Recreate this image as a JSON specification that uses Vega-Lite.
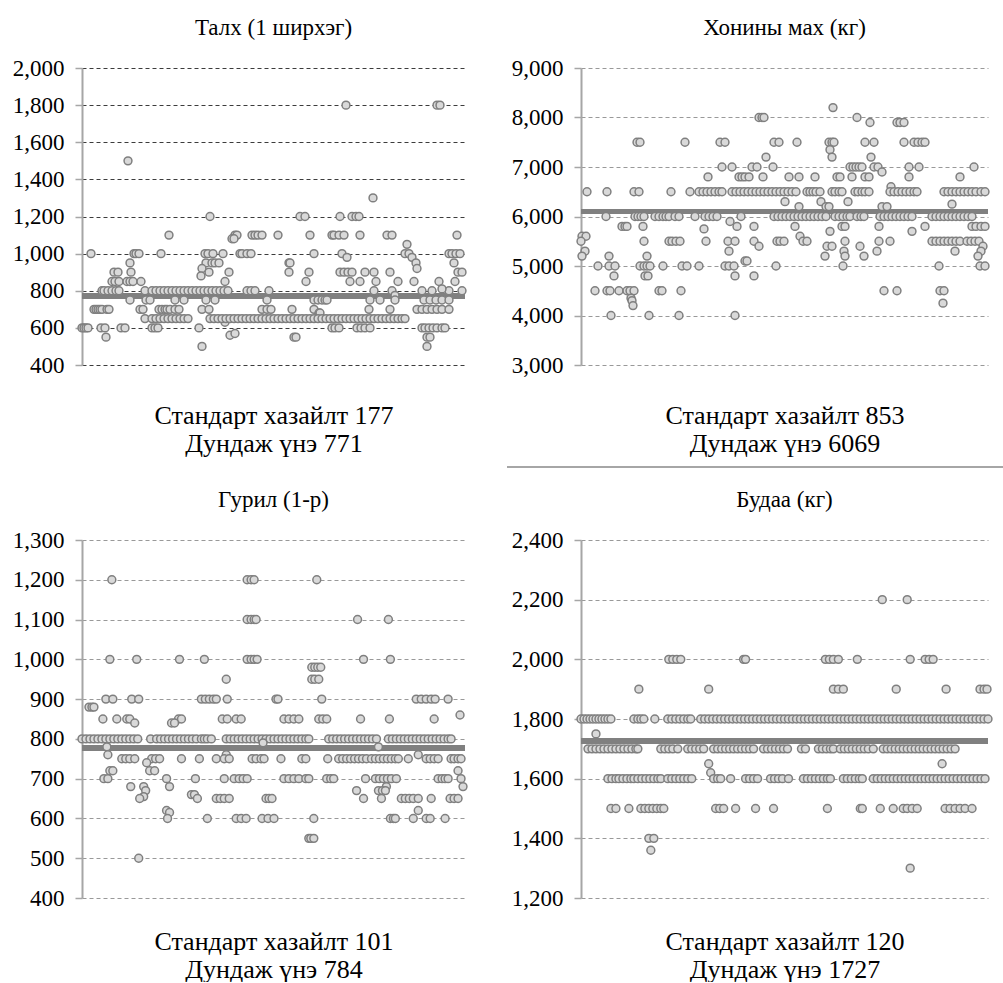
{
  "$schema": "https://vega.github.io/schema/vega-lite/v6.json",
  "background": "white",
  "padding": {"left": 12, "top": 17, "right": 0, "bottom": 0},
  "config": {
    "font": "Liberation Serif, Times New Roman, DejaVu Serif, serif",
    "view": {"stroke": null},
    "title": {"font": "Liberation Serif, Times New Roman, DejaVu Serif, serif", "fontSize": 23, "fontWeight": "normal", "color": "#000", "offset": 17},
    "axisY": {"domainColor": "#a6a6a6", "domainWidth": 2, "tickColor": "#a6a6a6", "tickSize": 7, "tickWidth": 1.5, "labelFont": "Liberation Serif, Times New Roman, DejaVu Serif, serif", "labelFontSize": 23, "labelColor": "#000", "labelPadding": 11, "labelFlush": false, "labelOverlap": false, "grid": true, "gridColor": "#999", "gridDash": [4, 3], "gridWidth": 1, "format": ",d"},
    "axisX": {"labels": false, "ticks": false, "domain": false, "grid": false, "titleFont": "Liberation Serif, Times New Roman, DejaVu Serif, serif", "titleFontSize": 26, "titleFontWeight": "normal", "titleColor": "#000", "titleLineHeight": 28, "titlePadding": 37}
  },
  "datasets": {
    "talkh": [
      {"x":0,"y":600},{"x":2,"y":600},{"x":4,"y":600},{"x":6,"y":600},{"x":19,"y":600},{"x":23,"y":600},{"x":39,"y":600},{"x":43,"y":600},{"x":70,"y":600},{"x":73,"y":600},{"x":76,"y":600},{"x":117,"y":600},{"x":250,"y":600},{"x":253,"y":600},{"x":257,"y":600},{"x":275,"y":600},{"x":279,"y":600},{"x":283,"y":600},{"x":288,"y":600},{"x":340,"y":600},{"x":343,"y":600},{"x":347,"y":600},{"x":351,"y":600},{"x":355,"y":600},{"x":360,"y":600},{"x":363,"y":600},
      {"x":148,"y":560},{"x":153,"y":570},{"x":24,"y":550},{"x":212,"y":550},{"x":214,"y":550},{"x":345,"y":550},{"x":348,"y":550},{"x":120,"y":500},{"x":345,"y":500},
      {"x":46,"y":1500},{"x":264,"y":1800},{"x":355,"y":1800},{"x":358,"y":1800},{"x":291,"y":1300},
      {"x":128,"y":1200},{"x":218,"y":1200},{"x":223,"y":1200},{"x":258,"y":1200},{"x":270,"y":1200},{"x":274,"y":1200},{"x":277,"y":1200},
      {"x":87,"y":1100},{"x":153,"y":1100},{"x":155,"y":1100},{"x":170,"y":1100},{"x":173,"y":1100},{"x":176,"y":1100},{"x":180,"y":1100},{"x":196,"y":1100},{"x":228,"y":1100},{"x":250,"y":1100},{"x":252,"y":1100},{"x":257,"y":1100},{"x":262,"y":1100},{"x":278,"y":1100},{"x":305,"y":1100},{"x":310,"y":1100},{"x":375,"y":1100},
      {"x":150,"y":1080},{"x":152,"y":1080},{"x":325,"y":1050},
      {"x":9,"y":1000},{"x":52,"y":1000},{"x":54,"y":1000},{"x":57,"y":1000},{"x":79,"y":1000},{"x":123,"y":1000},{"x":126,"y":1000},{"x":131,"y":1000},{"x":141,"y":1000},{"x":158,"y":1000},{"x":160,"y":1000},{"x":165,"y":1000},{"x":169,"y":1000},{"x":232,"y":1000},{"x":260,"y":1000},{"x":323,"y":1000},{"x":327,"y":1000},{"x":367,"y":1000},{"x":370,"y":1000},{"x":374,"y":1000},{"x":378,"y":1000},
      {"x":265,"y":980},{"x":330,"y":980},
      {"x":48,"y":950},{"x":124,"y":950},{"x":130,"y":950},{"x":133,"y":950},{"x":137,"y":950},{"x":207,"y":950},{"x":208,"y":950},{"x":334,"y":950},{"x":372,"y":950},
      {"x":120,"y":920},{"x":335,"y":920},
      {"x":32,"y":900},{"x":36,"y":900},{"x":49,"y":900},{"x":127,"y":900},{"x":147,"y":900},{"x":207,"y":900},{"x":227,"y":900},{"x":258,"y":900},{"x":262,"y":900},{"x":266,"y":900},{"x":270,"y":900},{"x":283,"y":900},{"x":292,"y":900},{"x":308,"y":900},{"x":376,"y":900},{"x":380,"y":900},
      {"x":119,"y":880},
      {"x":30,"y":850},{"x":33,"y":850},{"x":37,"y":850},{"x":45,"y":850},{"x":48,"y":850},{"x":51,"y":850},{"x":59,"y":850},{"x":143,"y":850},{"x":224,"y":850},{"x":268,"y":850},{"x":278,"y":850},{"x":294,"y":850},{"x":316,"y":850},{"x":332,"y":850},{"x":357,"y":850},{"x":373,"y":850},
      {"x":20,"y":800},{"x":22,"y":800},{"x":26,"y":800},{"x":30,"y":800},{"x":34,"y":800},{"x":37,"y":800},{"x":63,"y":800},{"x":70,"y":800},{"x":74,"y":800},{"x":78,"y":800},{"x":82,"y":800},{"x":86,"y":800},{"x":90,"y":800},{"x":94,"y":800},{"x":98,"y":800},{"x":102,"y":800},{"x":106,"y":800},{"x":110,"y":800},{"x":114,"y":800},{"x":118,"y":800},{"x":122,"y":800},{"x":126,"y":800},{"x":130,"y":800},{"x":134,"y":800},{"x":138,"y":800},{"x":142,"y":800},{"x":146,"y":800},{"x":165,"y":800},{"x":169,"y":800},{"x":173,"y":800},{"x":187,"y":800},{"x":292,"y":800},{"x":310,"y":800},{"x":340,"y":800},{"x":350,"y":800},{"x":367,"y":800},{"x":380,"y":800},
      {"x":360,"y":810},{"x":313,"y":775},
      {"x":48,"y":750},{"x":64,"y":750},{"x":68,"y":750},{"x":93,"y":750},{"x":102,"y":750},{"x":124,"y":750},{"x":133,"y":750},{"x":185,"y":750},{"x":232,"y":750},{"x":236,"y":750},{"x":240,"y":750},{"x":243,"y":750},{"x":245,"y":750},{"x":288,"y":750},{"x":298,"y":750},{"x":313,"y":750},{"x":342,"y":750},{"x":348,"y":750},{"x":354,"y":750},{"x":360,"y":750},{"x":367,"y":750},
      {"x":12,"y":700},{"x":14,"y":700},{"x":16,"y":700},{"x":18,"y":700},{"x":20,"y":700},{"x":25,"y":700},{"x":27,"y":700},{"x":58,"y":700},{"x":61,"y":700},{"x":77,"y":700},{"x":80,"y":700},{"x":83,"y":700},{"x":85,"y":700},{"x":88,"y":700},{"x":93,"y":700},{"x":97,"y":700},{"x":120,"y":700},{"x":127,"y":700},{"x":180,"y":700},{"x":185,"y":700},{"x":189,"y":700},{"x":210,"y":700},{"x":232,"y":700},{"x":287,"y":700},{"x":308,"y":700},{"x":335,"y":700},{"x":340,"y":700},{"x":345,"y":700},{"x":350,"y":700},{"x":355,"y":700},{"x":360,"y":700},{"x":367,"y":700},
      {"x":237,"y":680},{"x":238,"y":680},{"x":143,"y":630},
      {"x":63,"y":650},{"x":70,"y":650},{"x":74,"y":650},{"x":78,"y":650},{"x":82,"y":650},{"x":86,"y":650},{"x":90,"y":650},{"x":94,"y":650},{"x":98,"y":650},{"x":102,"y":650},{"x":106,"y":650},{"x":128,"y":650},{"x":132,"y":650},{"x":136,"y":650},{"x":140,"y":650},{"x":144,"y":650},{"x":148,"y":650},{"x":152,"y":650},{"x":156,"y":650},{"x":160,"y":650},{"x":164,"y":650},{"x":168,"y":650},{"x":172,"y":650},{"x":176,"y":650},{"x":180,"y":650},{"x":184,"y":650},{"x":188,"y":650},{"x":192,"y":650},{"x":196,"y":650},{"x":200,"y":650},{"x":204,"y":650},{"x":208,"y":650},{"x":212,"y":650},{"x":216,"y":650},{"x":220,"y":650},{"x":224,"y":650},{"x":228,"y":650},{"x":232,"y":650},{"x":236,"y":650},{"x":240,"y":650},{"x":244,"y":650},{"x":248,"y":650},{"x":252,"y":650},{"x":256,"y":650},{"x":260,"y":650},{"x":264,"y":650},{"x":268,"y":650},{"x":272,"y":650},{"x":276,"y":650},{"x":280,"y":650},{"x":284,"y":650},{"x":288,"y":650},{"x":292,"y":650},{"x":296,"y":650},{"x":300,"y":650},{"x":304,"y":650},{"x":308,"y":650},{"x":312,"y":650},{"x":316,"y":650},{"x":320,"y":650},{"x":323,"y":650}
    ],
    "mah": [
      {"x":252,"y":8200},{"x":178,"y":8000},{"x":181,"y":8000},{"x":183,"y":8000},{"x":276,"y":8000},{"x":289,"y":7900},{"x":316,"y":7900},{"x":319,"y":7900},{"x":323,"y":7900},
      {"x":56,"y":7500},{"x":59,"y":7500},{"x":104,"y":7500},{"x":139,"y":7500},{"x":144,"y":7500},{"x":193,"y":7500},{"x":198,"y":7500},{"x":216,"y":7500},{"x":248,"y":7500},{"x":251,"y":7500},{"x":253,"y":7500},{"x":284,"y":7500},{"x":293,"y":7500},{"x":323,"y":7500},{"x":333,"y":7500},{"x":337,"y":7500},{"x":341,"y":7500},{"x":344,"y":7500},
      {"x":249,"y":7350},{"x":185,"y":7200},{"x":251,"y":7200},{"x":290,"y":7200},
      {"x":141,"y":7000},{"x":151,"y":7000},{"x":171,"y":7000},{"x":176,"y":7000},{"x":192,"y":7000},{"x":269,"y":7000},{"x":272,"y":7000},{"x":275,"y":7000},{"x":278,"y":7000},{"x":281,"y":7000},{"x":293,"y":7000},{"x":297,"y":7000},{"x":328,"y":7000},{"x":338,"y":7000},{"x":393,"y":7000},{"x":301,"y":6900},
      {"x":127,"y":6800},{"x":158,"y":6800},{"x":161,"y":6800},{"x":164,"y":6800},{"x":168,"y":6800},{"x":182,"y":6800},{"x":208,"y":6800},{"x":218,"y":6800},{"x":234,"y":6800},{"x":256,"y":6800},{"x":259,"y":6800},{"x":271,"y":6800},{"x":284,"y":6800},{"x":288,"y":6800},{"x":328,"y":6800},{"x":379,"y":6800},{"x":310,"y":6600},
      {"x":6,"y":6500},{"x":26,"y":6500},{"x":53,"y":6500},{"x":58,"y":6500},{"x":90,"y":6500},{"x":109,"y":6500},{"x":118,"y":6500},{"x":122,"y":6500},{"x":126,"y":6500},{"x":130,"y":6500},{"x":134,"y":6500},{"x":138,"y":6500},{"x":141,"y":6500},{"x":151,"y":6500},{"x":155,"y":6500},{"x":159,"y":6500},{"x":163,"y":6500},{"x":167,"y":6500},{"x":171,"y":6500},{"x":175,"y":6500},{"x":179,"y":6500},{"x":183,"y":6500},{"x":187,"y":6500},{"x":191,"y":6500},{"x":195,"y":6500},{"x":199,"y":6500},{"x":203,"y":6500},{"x":207,"y":6500},{"x":211,"y":6500},{"x":215,"y":6500},{"x":226,"y":6500},{"x":229,"y":6500},{"x":232,"y":6500},{"x":235,"y":6500},{"x":239,"y":6500},{"x":251,"y":6500},{"x":254,"y":6500},{"x":258,"y":6500},{"x":261,"y":6500},{"x":274,"y":6500},{"x":277,"y":6500},{"x":281,"y":6500},{"x":284,"y":6500},{"x":288,"y":6500},{"x":309,"y":6500},{"x":313,"y":6500},{"x":317,"y":6500},{"x":321,"y":6500},{"x":325,"y":6500},{"x":329,"y":6500},{"x":333,"y":6500},{"x":336,"y":6500},{"x":363,"y":6500},{"x":367,"y":6500},{"x":371,"y":6500},{"x":375,"y":6500},{"x":379,"y":6500},{"x":383,"y":6500},{"x":387,"y":6500},{"x":391,"y":6500},{"x":395,"y":6500},{"x":400,"y":6500},{"x":404,"y":6500},
      {"x":204,"y":6300},{"x":240,"y":6300},{"x":267,"y":6300},{"x":371,"y":6250},{"x":218,"y":6200},{"x":245,"y":6200},{"x":248,"y":6200},{"x":301,"y":6200},{"x":306,"y":6200},
      {"x":25,"y":6000},{"x":54,"y":6000},{"x":57,"y":6000},{"x":60,"y":6000},{"x":63,"y":6000},{"x":74,"y":6000},{"x":78,"y":6000},{"x":82,"y":6000},{"x":85,"y":6000},{"x":88,"y":6000},{"x":94,"y":6000},{"x":98,"y":6000},{"x":114,"y":6000},{"x":124,"y":6000},{"x":128,"y":6000},{"x":132,"y":6000},{"x":136,"y":6000},{"x":160,"y":6000},{"x":193,"y":6000},{"x":197,"y":6000},{"x":201,"y":6000},{"x":205,"y":6000},{"x":209,"y":6000},{"x":213,"y":6000},{"x":217,"y":6000},{"x":221,"y":6000},{"x":225,"y":6000},{"x":229,"y":6000},{"x":233,"y":6000},{"x":237,"y":6000},{"x":241,"y":6000},{"x":245,"y":6000},{"x":254,"y":6000},{"x":258,"y":6000},{"x":262,"y":6000},{"x":266,"y":6000},{"x":269,"y":6000},{"x":276,"y":6000},{"x":280,"y":6000},{"x":283,"y":6000},{"x":299,"y":6000},{"x":303,"y":6000},{"x":307,"y":6000},{"x":311,"y":6000},{"x":315,"y":6000},{"x":319,"y":6000},{"x":323,"y":6000},{"x":327,"y":6000},{"x":331,"y":6000},{"x":351,"y":6000},{"x":355,"y":6000},{"x":359,"y":6000},{"x":363,"y":6000},{"x":367,"y":6000},{"x":371,"y":6000},{"x":375,"y":6000},{"x":379,"y":6000},{"x":383,"y":6000},{"x":387,"y":6000},{"x":391,"y":6000},
      {"x":149,"y":5900},{"x":41,"y":5800},{"x":44,"y":5800},{"x":46,"y":5800},{"x":62,"y":5800},{"x":156,"y":5800},{"x":173,"y":5800},{"x":214,"y":5800},{"x":261,"y":5800},{"x":264,"y":5800},{"x":298,"y":5800},{"x":344,"y":5800},{"x":391,"y":5800},{"x":395,"y":5800},{"x":400,"y":5800},{"x":404,"y":5800},
      {"x":123,"y":5750},{"x":249,"y":5700},{"x":331,"y":5700},{"x":1,"y":5600},{"x":5,"y":5600},{"x":219,"y":5600},
      {"x":0,"y":5500},{"x":63,"y":5500},{"x":88,"y":5500},{"x":91,"y":5500},{"x":95,"y":5500},{"x":99,"y":5500},{"x":125,"y":5500},{"x":147,"y":5500},{"x":154,"y":5500},{"x":173,"y":5500},{"x":196,"y":5500},{"x":199,"y":5500},{"x":203,"y":5500},{"x":222,"y":5500},{"x":226,"y":5500},{"x":264,"y":5500},{"x":298,"y":5500},{"x":309,"y":5500},{"x":351,"y":5500},{"x":355,"y":5500},{"x":359,"y":5500},{"x":363,"y":5500},{"x":367,"y":5500},{"x":371,"y":5500},{"x":375,"y":5500},{"x":379,"y":5500},{"x":386,"y":5500},{"x":390,"y":5500},{"x":394,"y":5500},{"x":398,"y":5500},
      {"x":178,"y":5400},{"x":246,"y":5400},{"x":251,"y":5400},{"x":279,"y":5400},{"x":402,"y":5400},{"x":4,"y":5300},{"x":148,"y":5300},{"x":263,"y":5300},{"x":296,"y":5300},{"x":374,"y":5300},{"x":400,"y":5300},
      {"x":1,"y":5200},{"x":28,"y":5200},{"x":66,"y":5200},{"x":244,"y":5200},{"x":264,"y":5200},{"x":283,"y":5200},{"x":397,"y":5200},{"x":164,"y":5100},{"x":166,"y":5100},
      {"x":17,"y":5000},{"x":28,"y":5000},{"x":34,"y":5000},{"x":59,"y":5000},{"x":63,"y":5000},{"x":66,"y":5000},{"x":69,"y":5000},{"x":82,"y":5000},{"x":101,"y":5000},{"x":106,"y":5000},{"x":118,"y":5000},{"x":144,"y":5000},{"x":148,"y":5000},{"x":153,"y":5000},{"x":195,"y":5000},{"x":262,"y":5000},{"x":358,"y":5000},{"x":399,"y":5000},{"x":404,"y":5000},
      {"x":33,"y":4800},{"x":64,"y":4800},{"x":67,"y":4800},{"x":154,"y":4800},{"x":173,"y":4800},
      {"x":14,"y":4500},{"x":26,"y":4500},{"x":29,"y":4500},{"x":38,"y":4500},{"x":46,"y":4500},{"x":49,"y":4500},{"x":53,"y":4500},{"x":78,"y":4500},{"x":81,"y":4500},{"x":100,"y":4500},{"x":303,"y":4500},{"x":316,"y":4500},{"x":359,"y":4500},{"x":363,"y":4500},
      {"x":50,"y":4350},{"x":51,"y":4300},{"x":52,"y":4200},{"x":362,"y":4250},
      {"x":30,"y":4000},{"x":68,"y":4000},{"x":98,"y":4000},{"x":154,"y":4000}
    ],
    "guril": [
      {"x":30,"y":1200},{"x":166,"y":1200},{"x":170,"y":1200},{"x":173,"y":1200},{"x":236,"y":1200},
      {"x":166,"y":1100},{"x":170,"y":1100},{"x":173,"y":1100},{"x":175,"y":1100},{"x":277,"y":1100},{"x":308,"y":1100},
      {"x":28,"y":1000},{"x":55,"y":1000},{"x":98,"y":1000},{"x":123,"y":1000},{"x":166,"y":1000},{"x":170,"y":1000},{"x":173,"y":1000},{"x":176,"y":1000},{"x":283,"y":1000},{"x":310,"y":1000},
      {"x":231,"y":980},{"x":234,"y":980},{"x":237,"y":980},{"x":240,"y":980},{"x":145,"y":950},{"x":231,"y":950},{"x":234,"y":950},{"x":238,"y":950},
      {"x":24,"y":900},{"x":31,"y":900},{"x":50,"y":900},{"x":57,"y":900},{"x":120,"y":900},{"x":124,"y":900},{"x":128,"y":900},{"x":132,"y":900},{"x":135,"y":900},{"x":146,"y":900},{"x":195,"y":900},{"x":197,"y":900},{"x":241,"y":900},{"x":336,"y":900},{"x":341,"y":900},{"x":346,"y":900},{"x":351,"y":900},{"x":355,"y":900},{"x":368,"y":900},
      {"x":7,"y":880},{"x":10,"y":880},{"x":12,"y":880},{"x":380,"y":860},
      {"x":21,"y":850},{"x":35,"y":850},{"x":45,"y":850},{"x":48,"y":850},{"x":97,"y":850},{"x":100,"y":850},{"x":141,"y":850},{"x":146,"y":850},{"x":155,"y":850},{"x":160,"y":850},{"x":203,"y":850},{"x":208,"y":850},{"x":213,"y":850},{"x":218,"y":850},{"x":238,"y":850},{"x":242,"y":850},{"x":246,"y":850},{"x":280,"y":850},{"x":309,"y":850},{"x":354,"y":850},
      {"x":53,"y":840},{"x":90,"y":840},{"x":93,"y":840},
      {"x":0,"y":800},{"x":4,"y":800},{"x":8,"y":800},{"x":12,"y":800},{"x":16,"y":800},{"x":20,"y":800},{"x":24,"y":800},{"x":28,"y":800},{"x":32,"y":800},{"x":36,"y":800},{"x":40,"y":800},{"x":44,"y":800},{"x":48,"y":800},{"x":52,"y":800},{"x":56,"y":800},{"x":69,"y":800},{"x":75,"y":800},{"x":79,"y":800},{"x":83,"y":800},{"x":87,"y":800},{"x":91,"y":800},{"x":95,"y":800},{"x":99,"y":800},{"x":103,"y":800},{"x":107,"y":800},{"x":111,"y":800},{"x":115,"y":800},{"x":120,"y":800},{"x":123,"y":800},{"x":126,"y":800},{"x":130,"y":800},{"x":145,"y":800},{"x":149,"y":800},{"x":153,"y":800},{"x":157,"y":800},{"x":161,"y":800},{"x":165,"y":800},{"x":169,"y":800},{"x":173,"y":800},{"x":177,"y":800},{"x":181,"y":800},{"x":185,"y":800},{"x":189,"y":800},{"x":193,"y":800},{"x":197,"y":800},{"x":201,"y":800},{"x":205,"y":800},{"x":209,"y":800},{"x":213,"y":800},{"x":217,"y":800},{"x":221,"y":800},{"x":225,"y":800},{"x":228,"y":800},{"x":248,"y":800},{"x":252,"y":800},{"x":256,"y":800},{"x":260,"y":800},{"x":264,"y":800},{"x":268,"y":800},{"x":272,"y":800},{"x":276,"y":800},{"x":280,"y":800},{"x":284,"y":800},{"x":288,"y":800},{"x":292,"y":800},{"x":296,"y":800},{"x":308,"y":800},{"x":312,"y":800},{"x":316,"y":800},{"x":320,"y":800},{"x":324,"y":800},{"x":328,"y":800},{"x":332,"y":800},{"x":336,"y":800},{"x":340,"y":800},{"x":344,"y":800},{"x":348,"y":800},{"x":352,"y":800},{"x":356,"y":800},{"x":360,"y":800},{"x":364,"y":800},{"x":368,"y":800},{"x":371,"y":800},
      {"x":182,"y":790},{"x":25,"y":780},{"x":298,"y":780},{"x":26,"y":760},{"x":145,"y":760},{"x":338,"y":760},
      {"x":40,"y":750},{"x":44,"y":750},{"x":48,"y":750},{"x":53,"y":750},{"x":70,"y":750},{"x":74,"y":750},{"x":78,"y":750},{"x":100,"y":750},{"x":118,"y":750},{"x":135,"y":750},{"x":143,"y":750},{"x":148,"y":750},{"x":171,"y":750},{"x":175,"y":750},{"x":180,"y":750},{"x":183,"y":750},{"x":200,"y":750},{"x":221,"y":750},{"x":225,"y":750},{"x":247,"y":750},{"x":258,"y":750},{"x":262,"y":750},{"x":266,"y":750},{"x":270,"y":750},{"x":274,"y":750},{"x":278,"y":750},{"x":282,"y":750},{"x":286,"y":750},{"x":291,"y":750},{"x":295,"y":750},{"x":299,"y":750},{"x":303,"y":750},{"x":307,"y":750},{"x":311,"y":750},{"x":315,"y":750},{"x":318,"y":750},{"x":328,"y":750},{"x":346,"y":750},{"x":350,"y":750},{"x":354,"y":750},{"x":358,"y":750},{"x":371,"y":750},{"x":374,"y":750},{"x":378,"y":750},{"x":381,"y":750},
      {"x":65,"y":740},{"x":28,"y":720},{"x":31,"y":720},{"x":68,"y":720},{"x":73,"y":720},{"x":378,"y":720},
      {"x":22,"y":700},{"x":26,"y":700},{"x":85,"y":700},{"x":114,"y":700},{"x":143,"y":700},{"x":153,"y":700},{"x":158,"y":700},{"x":162,"y":700},{"x":166,"y":700},{"x":203,"y":700},{"x":208,"y":700},{"x":213,"y":700},{"x":218,"y":700},{"x":225,"y":700},{"x":228,"y":700},{"x":246,"y":700},{"x":250,"y":700},{"x":253,"y":700},{"x":285,"y":700},{"x":295,"y":700},{"x":299,"y":700},{"x":303,"y":700},{"x":307,"y":700},{"x":311,"y":700},{"x":316,"y":700},{"x":358,"y":700},{"x":362,"y":700},{"x":365,"y":700},{"x":368,"y":700},{"x":381,"y":700},
      {"x":49,"y":680},{"x":62,"y":680},{"x":88,"y":680},{"x":306,"y":680},{"x":383,"y":680},{"x":64,"y":670},{"x":276,"y":670},{"x":298,"y":670},{"x":302,"y":670},{"x":305,"y":670},{"x":110,"y":660},{"x":113,"y":660},{"x":62,"y":655},
      {"x":58,"y":650},{"x":116,"y":650},{"x":135,"y":650},{"x":139,"y":650},{"x":143,"y":650},{"x":148,"y":650},{"x":185,"y":650},{"x":188,"y":650},{"x":191,"y":650},{"x":283,"y":650},{"x":301,"y":650},{"x":321,"y":650},{"x":325,"y":650},{"x":329,"y":650},{"x":333,"y":650},{"x":338,"y":650},{"x":351,"y":650},{"x":370,"y":650},{"x":374,"y":650},{"x":378,"y":650},
      {"x":85,"y":620},{"x":338,"y":620},{"x":88,"y":615},
      {"x":86,"y":600},{"x":126,"y":600},{"x":155,"y":600},{"x":160,"y":600},{"x":165,"y":600},{"x":181,"y":600},{"x":187,"y":600},{"x":193,"y":600},{"x":233,"y":600},{"x":310,"y":600},{"x":313,"y":600},{"x":315,"y":600},{"x":333,"y":600},{"x":346,"y":600},{"x":350,"y":600},{"x":365,"y":600},
      {"x":228,"y":550},{"x":230,"y":550},{"x":233,"y":550},{"x":57,"y":500}
    ],
    "budaa": [
      {"x":302,"y":2200},{"x":327,"y":2200},
      {"x":88,"y":2000},{"x":92,"y":2000},{"x":96,"y":2000},{"x":100,"y":2000},{"x":163,"y":2000},{"x":165,"y":2000},{"x":245,"y":2000},{"x":249,"y":2000},{"x":253,"y":2000},{"x":258,"y":2000},{"x":277,"y":2000},{"x":330,"y":2000},{"x":345,"y":2000},{"x":349,"y":2000},{"x":353,"y":2000},
      {"x":58,"y":1900},{"x":128,"y":1900},{"x":253,"y":1900},{"x":258,"y":1900},{"x":263,"y":1900},{"x":316,"y":1900},{"x":366,"y":1900},{"x":400,"y":1900},{"x":404,"y":1900},{"x":407,"y":1900},
      {"x":0,"y":1800},{"x":3,"y":1800},{"x":6,"y":1800},{"x":9,"y":1800},{"x":12,"y":1800},{"x":15,"y":1800},{"x":18,"y":1800},{"x":21,"y":1800},{"x":24,"y":1800},{"x":27,"y":1800},{"x":30,"y":1800},{"x":53,"y":1800},{"x":57,"y":1800},{"x":60,"y":1800},{"x":63,"y":1800},{"x":74,"y":1800},{"x":87,"y":1800},{"x":91,"y":1800},{"x":95,"y":1800},{"x":99,"y":1800},{"x":103,"y":1800},{"x":107,"y":1800},{"x":110,"y":1800},
      {"x":120,"y":1800},{"x":124,"y":1800},{"x":128,"y":1800},{"x":132,"y":1800},{"x":136,"y":1800},{"x":140,"y":1800},{"x":144,"y":1800},{"x":148,"y":1800},{"x":152,"y":1800},{"x":156,"y":1800},{"x":160,"y":1800},{"x":164,"y":1800},{"x":168,"y":1800},{"x":172,"y":1800},{"x":176,"y":1800},{"x":180,"y":1800},{"x":184,"y":1800},{"x":188,"y":1800},{"x":192,"y":1800},{"x":196,"y":1800},{"x":200,"y":1800},{"x":204,"y":1800},{"x":208,"y":1800},{"x":212,"y":1800},{"x":216,"y":1800},{"x":220,"y":1800},{"x":224,"y":1800},{"x":228,"y":1800},{"x":232,"y":1800},{"x":236,"y":1800},{"x":240,"y":1800},{"x":244,"y":1800},{"x":248,"y":1800},{"x":252,"y":1800},{"x":256,"y":1800},{"x":260,"y":1800},{"x":264,"y":1800},{"x":268,"y":1800},{"x":272,"y":1800},{"x":276,"y":1800},{"x":280,"y":1800},{"x":284,"y":1800},{"x":288,"y":1800},{"x":292,"y":1800},{"x":296,"y":1800},{"x":300,"y":1800},{"x":304,"y":1800},{"x":308,"y":1800},{"x":312,"y":1800},{"x":316,"y":1800},{"x":320,"y":1800},{"x":324,"y":1800},{"x":328,"y":1800},{"x":332,"y":1800},{"x":336,"y":1800},{"x":340,"y":1800},{"x":344,"y":1800},{"x":348,"y":1800},{"x":352,"y":1800},{"x":356,"y":1800},{"x":360,"y":1800},{"x":364,"y":1800},{"x":368,"y":1800},{"x":372,"y":1800},{"x":376,"y":1800},{"x":380,"y":1800},{"x":384,"y":1800},{"x":388,"y":1800},{"x":392,"y":1800},{"x":396,"y":1800},{"x":400,"y":1800},{"x":404,"y":1800},{"x":408,"y":1800},
      {"x":15,"y":1750},
      {"x":7,"y":1700},{"x":11,"y":1700},{"x":15,"y":1700},{"x":19,"y":1700},{"x":23,"y":1700},{"x":27,"y":1700},{"x":31,"y":1700},{"x":35,"y":1700},{"x":39,"y":1700},{"x":43,"y":1700},{"x":47,"y":1700},{"x":51,"y":1700},{"x":55,"y":1700},{"x":57,"y":1700},{"x":80,"y":1700},{"x":84,"y":1700},{"x":88,"y":1700},{"x":92,"y":1700},{"x":97,"y":1700},{"x":107,"y":1700},{"x":111,"y":1700},{"x":115,"y":1700},{"x":119,"y":1700},{"x":123,"y":1700},{"x":133,"y":1700},{"x":137,"y":1700},{"x":141,"y":1700},{"x":145,"y":1700},{"x":149,"y":1700},{"x":153,"y":1700},{"x":157,"y":1700},{"x":161,"y":1700},{"x":165,"y":1700},{"x":169,"y":1700},{"x":173,"y":1700},{"x":183,"y":1700},{"x":187,"y":1700},{"x":191,"y":1700},{"x":195,"y":1700},{"x":199,"y":1700},{"x":203,"y":1700},{"x":207,"y":1700},{"x":221,"y":1700},{"x":225,"y":1700},{"x":238,"y":1700},{"x":242,"y":1700},{"x":246,"y":1700},{"x":250,"y":1700},{"x":253,"y":1700},{"x":260,"y":1700},{"x":264,"y":1700},{"x":268,"y":1700},{"x":272,"y":1700},{"x":276,"y":1700},{"x":280,"y":1700},{"x":284,"y":1700},{"x":288,"y":1700},{"x":293,"y":1700},{"x":303,"y":1700},{"x":307,"y":1700},{"x":311,"y":1700},{"x":315,"y":1700},{"x":319,"y":1700},{"x":323,"y":1700},{"x":327,"y":1700},{"x":331,"y":1700},{"x":335,"y":1700},{"x":339,"y":1700},{"x":343,"y":1700},{"x":347,"y":1700},{"x":351,"y":1700},{"x":355,"y":1700},{"x":359,"y":1700},{"x":363,"y":1700},{"x":367,"y":1700},{"x":371,"y":1700},{"x":375,"y":1700},
      {"x":128,"y":1650},{"x":362,"y":1650},{"x":130,"y":1620},
      {"x":27,"y":1600},{"x":31,"y":1600},{"x":35,"y":1600},{"x":38,"y":1600},{"x":42,"y":1600},{"x":46,"y":1600},{"x":50,"y":1600},{"x":53,"y":1600},{"x":57,"y":1600},{"x":61,"y":1600},{"x":65,"y":1600},{"x":69,"y":1600},{"x":73,"y":1600},{"x":77,"y":1600},{"x":80,"y":1600},{"x":87,"y":1600},{"x":91,"y":1600},{"x":95,"y":1600},{"x":99,"y":1600},{"x":103,"y":1600},{"x":107,"y":1600},{"x":111,"y":1600},{"x":133,"y":1600},{"x":137,"y":1600},{"x":140,"y":1600},{"x":150,"y":1600},{"x":165,"y":1600},{"x":169,"y":1600},{"x":173,"y":1600},{"x":177,"y":1600},{"x":190,"y":1600},{"x":194,"y":1600},{"x":198,"y":1600},{"x":202,"y":1600},{"x":208,"y":1600},{"x":223,"y":1600},{"x":227,"y":1600},{"x":231,"y":1600},{"x":235,"y":1600},{"x":239,"y":1600},{"x":243,"y":1600},{"x":247,"y":1600},{"x":250,"y":1600},{"x":263,"y":1600},{"x":267,"y":1600},{"x":271,"y":1600},{"x":275,"y":1600},{"x":279,"y":1600},{"x":282,"y":1600},{"x":293,"y":1600},{"x":297,"y":1600},{"x":301,"y":1600},{"x":305,"y":1600},{"x":309,"y":1600},{"x":313,"y":1600},{"x":317,"y":1600},{"x":321,"y":1600},{"x":325,"y":1600},{"x":329,"y":1600},{"x":333,"y":1600},{"x":337,"y":1600},{"x":341,"y":1600},{"x":345,"y":1600},{"x":349,"y":1600},{"x":353,"y":1600},{"x":357,"y":1600},{"x":361,"y":1600},{"x":365,"y":1600},{"x":369,"y":1600},{"x":373,"y":1600},{"x":377,"y":1600},{"x":381,"y":1600},{"x":385,"y":1600},{"x":389,"y":1600},{"x":393,"y":1600},{"x":397,"y":1600},{"x":401,"y":1600},{"x":405,"y":1600},
      {"x":30,"y":1500},{"x":35,"y":1500},{"x":48,"y":1500},{"x":60,"y":1500},{"x":64,"y":1500},{"x":68,"y":1500},{"x":72,"y":1500},{"x":76,"y":1500},{"x":80,"y":1500},{"x":83,"y":1500},{"x":135,"y":1500},{"x":139,"y":1500},{"x":143,"y":1500},{"x":155,"y":1500},{"x":175,"y":1500},{"x":193,"y":1500},{"x":247,"y":1500},{"x":280,"y":1500},{"x":282,"y":1500},{"x":300,"y":1500},{"x":313,"y":1500},{"x":323,"y":1500},{"x":327,"y":1500},{"x":332,"y":1500},{"x":337,"y":1500},{"x":365,"y":1500},{"x":370,"y":1500},{"x":375,"y":1500},{"x":380,"y":1500},{"x":385,"y":1500},{"x":392,"y":1500},
      {"x":68,"y":1400},{"x":73,"y":1400},{"x":70,"y":1360},{"x":330,"y":1300}
    ]
  },
  "columns": 2,
  "spacing": {"row": 175, "column": 116},
  "bounds": "flush",
  "concat": [
    {
      "width": 383, "height": 297,
      "title": {"text": "Талх (1 ширхэг)"},
      "data": {"name": "talkh"},
      "layer": [
        {"mark": {"type": "rule", "color": "#808080", "strokeWidth": 5}, "encoding": {"y": {"datum": 771, "type": "quantitative", "scale": {"domain": [400, 2000], "nice": false, "zero": false}, "axis": {"title": null, "values": [400, 600, 800, 1000, 1200, 1400, 1600, 1800, 2000], "gridColor": "#3c3c3c"}}}},
        {
          "mark": {"type": "circle", "fill": "#d9d9d9", "stroke": "#7f7f7f", "strokeWidth": 1.5, "size": 62, "opacity": 1},
          "encoding": {
            "x": {"field": "x", "type": "quantitative", "scale": {"domain": [0, 383], "nice": false, "zero": false}, "axis": {"title": ["Стандарт хазайлт 177", "Дундаж үнэ 771"]}},
            "y": {"field": "y", "type": "quantitative", "scale": {"domain": [400, 2000], "nice": false, "zero": false}, "axis": {"title": null, "values": [400, 600, 800, 1000, 1200, 1400, 1600, 1800, 2000], "gridColor": "#3c3c3c"}}
          }
        }
      ]
    },
    {
      "width": 407, "height": 297,
      "title": {"text": "Хонины мах (кг)"},
      "data": {"name": "mah"},
      "layer": [
        {"mark": {"type": "rule", "color": "#808080", "strokeWidth": 5}, "encoding": {"y": {"datum": 6100, "type": "quantitative", "scale": {"domain": [3000, 9000], "nice": false, "zero": false}, "axis": {"title": null, "values": [3000, 4000, 5000, 6000, 7000, 8000, 9000]}}}},
        {"mark": {"type": "rule", "color": "#a6a6a6", "strokeWidth": 1.5}, "encoding": {"y": {"datum": 946, "type": "quantitative"}, "x": {"datum": -74, "type": "quantitative"}, "x2": {"datum": 424}}},
        {
          "mark": {"type": "circle", "fill": "#d9d9d9", "stroke": "#7f7f7f", "strokeWidth": 1.5, "size": 62, "opacity": 1},
          "encoding": {
            "x": {"field": "x", "type": "quantitative", "scale": {"domain": [0, 407], "nice": false, "zero": false}, "axis": {"title": ["Стандарт хазайлт 853", "Дундаж үнэ 6069"]}},
            "y": {"field": "y", "type": "quantitative", "scale": {"domain": [3000, 9000], "nice": false, "zero": false}, "axis": {"title": null, "values": [3000, 4000, 5000, 6000, 7000, 8000, 9000]}}
          }
        }
      ]
    },
    {
      "width": 383, "height": 358,
      "title": {"text": "Гурил (1-р)"},
      "data": {"name": "guril"},
      "layer": [
        {"mark": {"type": "rule", "color": "#808080", "strokeWidth": 5}, "encoding": {"y": {"datum": 777, "type": "quantitative", "scale": {"domain": [400, 1300], "nice": false, "zero": false}, "axis": {"title": null, "values": [400, 500, 600, 700, 800, 900, 1000, 1100, 1200, 1300]}}}},
        {
          "mark": {"type": "circle", "fill": "#d9d9d9", "stroke": "#7f7f7f", "strokeWidth": 1.5, "size": 62, "opacity": 1},
          "encoding": {
            "x": {"field": "x", "type": "quantitative", "scale": {"domain": [0, 385], "nice": false, "zero": false}, "axis": {"title": ["Стандарт хазайлт 101", "Дундаж үнэ 784"], "titlePadding": 30}},
            "y": {"field": "y", "type": "quantitative", "scale": {"domain": [400, 1300], "nice": false, "zero": false}, "axis": {"title": null, "values": [400, 500, 600, 700, 800, 900, 1000, 1100, 1200, 1300]}}
          }
        }
      ]
    },
    {
      "width": 407, "height": 358,
      "title": {"text": "Будаа (кг)"},
      "data": {"name": "budaa"},
      "layer": [
        {"mark": {"type": "rule", "color": "#808080", "strokeWidth": 5}, "encoding": {"y": {"datum": 1727, "type": "quantitative", "scale": {"domain": [1200, 2400], "nice": false, "zero": false}, "axis": {"title": null, "values": [1200, 1400, 1600, 1800, 2000, 2200, 2400]}}}},
        {
          "mark": {"type": "circle", "fill": "#d9d9d9", "stroke": "#7f7f7f", "strokeWidth": 1.5, "size": 62, "opacity": 1},
          "encoding": {
            "x": {"field": "x", "type": "quantitative", "scale": {"domain": [0, 408], "nice": false, "zero": false}, "axis": {"title": ["Стандарт хазайлт 120", "Дундаж үнэ 1727"], "titlePadding": 30}},
            "y": {"field": "y", "type": "quantitative", "scale": {"domain": [1200, 2400], "nice": false, "zero": false}, "axis": {"title": null, "values": [1200, 1400, 1600, 1800, 2000, 2200, 2400]}}
          }
        }
      ]
    }
  ]
}
